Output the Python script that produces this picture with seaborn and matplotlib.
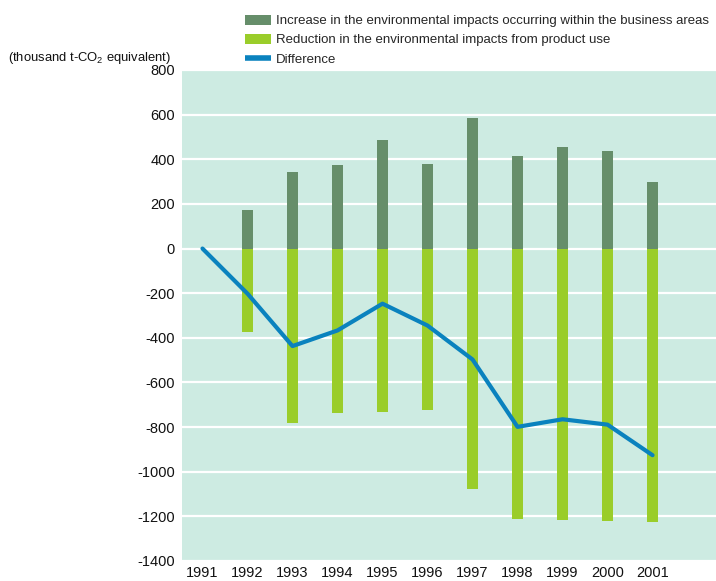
import numpy as np
import pandas as pd
import matplotlib
matplotlib.use("Agg")
import matplotlib.pyplot as plt
import seaborn as sns
from matplotlib.patches import Patch
from matplotlib.lines import Line2D

# Valores (miles de t-CO2 equivalente)
years = [1991, 1992, 1993, 1994, 1995, 1996, 1997, 1998, 1999, 2000, 2001]
increase = [0, 172, 342, 374, 486, 378, 584, 414, 454, 436, 297]
reduction = [0, -376, -783, -738, -734, -725, -1078, -1212, -1216, -1221, -1225]
difference = [0, -202, -437, -367, -247, -345, -497, -799, -765, -789, -926]

labels = [
    "Increase in the environmental impacts occurring within the business areas",
    "Reduction in the environmental impacts from product use",
    "Difference",
]
yticks = [800, 600, 400, 200, 0, -200, -400, -600, -800, -1000, -1200, -1400]

c_inc = "#668e6a"
c_red = "#9acd2a"
c_diff = "#0a82be"
c_bg = "#cdebe2"

sns.set_style("white")
plt.rcParams["font.family"] = ["Liberation Sans", "DejaVu Sans"]
plt.rcParams["mathtext.fontset"] = "custom"
plt.rcParams["mathtext.rm"] = "Liberation Sans"
plt.rcParams["mathtext.default"] = "regular"
plt.rcParams["axes.unicode_minus"] = False

df = pd.DataFrame({"year": years, "increase": increase,
                   "reduction": reduction, "difference": difference})

fig = plt.figure(figsize=(7.16, 5.81), dpi=100)
ax = fig.add_axes([182 / 716, 1 - 561 / 581, 1 - 182 / 716, (561 - 70) / 581])
ax.set_facecolor(c_bg)

sns.barplot(data=df, x="year", y="increase", native_scale=True, width=0.245,
            color=c_inc, saturation=1, linewidth=0, ax=ax, zorder=2)
sns.barplot(data=df, x="year", y="reduction", native_scale=True, width=0.245,
            color=c_red, saturation=1, linewidth=0, ax=ax, zorder=2)
sns.lineplot(data=df, x="year", y="difference", color=c_diff, linewidth=3,
             ax=ax, zorder=3)

ax.set_xlim(1990.545, 2002.41)
ax.set_ylim(-1400, 800)
ax.set_yticks(yticks)
ax.set_xticks(years)
ax.set_xticklabels([str(y) for y in years])
ax.yaxis.grid(True, color="white", linewidth=1.6, zorder=1)
ax.xaxis.grid(False)
ax.set_axisbelow(True)
for s in ax.spines.values():
    s.set_visible(False)
ax.tick_params(axis="both", length=0, labelsize=10.5, colors="#111111")
ax.tick_params(axis="y", pad=5)
ax.tick_params(axis="x", pad=3.5)
ax.set_xlabel("")
ax.set_ylabel("")

handles = [
    Patch(facecolor=c_inc, edgecolor="none"),
    Patch(facecolor=c_red, edgecolor="none"),
    Line2D([0], [0], color=c_diff, linewidth=4, solid_capstyle="butt"),
]
fig.legend(handles, labels, loc="upper left", bbox_to_anchor=(245 / 716, 1 - 14.5 / 581),
           frameon=False, fontsize=9.5, handlelength=2.0, handleheight=0.8,
           handletextpad=0.35, labelspacing=0.5, borderaxespad=0, borderpad=0)

fig.text(8 / 716, 1 - 58 / 581, "(thousand t-CO$_2$ equivalent)", fontsize=9.4,
         va="center", ha="left", color="#111111")

fig.savefig("out.png", dpi=100)
